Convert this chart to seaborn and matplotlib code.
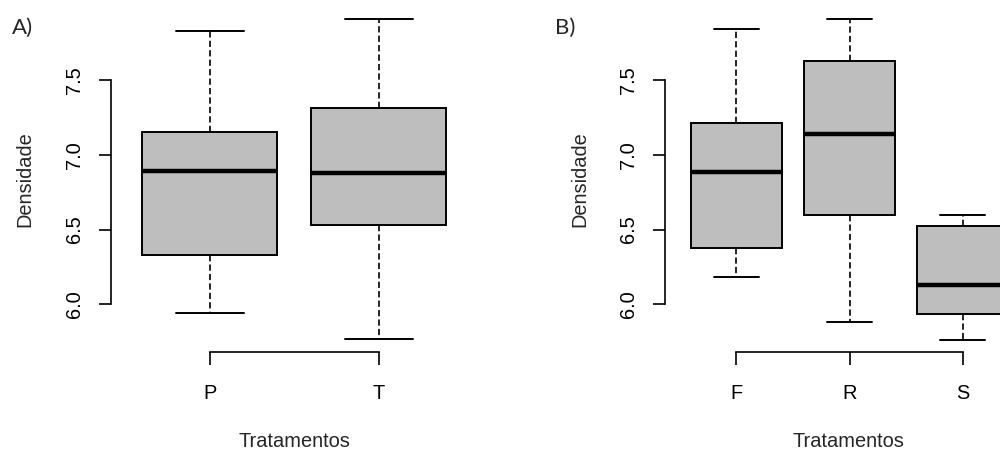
import numpy as np
import pandas as pd
import matplotlib
matplotlib.use("Agg")
import matplotlib.pyplot as plt
import seaborn as sns

# ---- data (five-number summaries) ----
grupos_a = ["P", "T"]
p_vals = [5.940, 6.328, 6.891, 7.154, 7.830]
t_vals = [5.768, 6.527, 6.875, 7.310, 7.906]

grupos_b = ["F", "R", "S"]
f_vals = [6.183, 6.373, 6.886, 7.213, 7.842]
r_vals = [5.884, 6.600, 7.142, 7.630, 7.909]
s_vals = [5.764, 5.938, 6.129, 6.526, 6.600]

y_ticks = [6.0, 6.5, 7.0, 7.5]
y_tick_labels = ["6.0", "6.5", "7.0", "7.5"]
painel_rotulos = ["A)", "B)"]
x_titulo = "Tratamentos"
y_titulo = "Densidade"

df_a = pd.DataFrame({"Tratamentos": np.repeat(grupos_a, 5),
                     "Densidade": p_vals + t_vals})
df_b = pd.DataFrame({"Tratamentos": np.repeat(grupos_b, 5),
                     "Densidade": f_vals + r_vals + s_vals})

sns.set_theme(style="white")
plt.rcParams["font.family"] = ["Liberation Sans", "DejaVu Sans"]
plt.rcParams["lines.scale_dashes"] = False

W, H = 1000, 451
fig = plt.figure(figsize=(W / 100, H / 100), dpi=100)

bottom = 1 - 351.7 / H
height = (351.7 - 6.6) / H
ax_a = fig.add_axes([110.7 / W, bottom, 367.3 / W, height])
ax_b = fig.add_axes([665 / W, bottom, 367.0 / W, height])

box_kw = dict(color="#BEBEBE", saturation=1, width=0.8, linecolor="black",
              linewidth=1.4, showfliers=False,
              whiskerprops=dict(linestyle=(0, (4.5, 2.3)), linewidth=1.2),
              capprops=dict(linewidth=1.4),
              medianprops=dict(linewidth=3.2, color="black"))

FS = 14.4
for ax, df, grupos, xlim in [
    (ax_a, df_a, grupos_a, (-0.588, 1.588)),
    (ax_b, df_b, grupos_b, (-0.630, 2.612)),
]:
    sns.boxplot(data=df, x="Tratamentos", y="Densidade", order=grupos,
                ax=ax, **box_kw)
    ax.set_xlim(*xlim)
    ax.set_ylim(5.6825, 7.9915)
    ax.set_yticks(y_ticks)
    ax.set_yticklabels(y_tick_labels, rotation=90, va="center")
    ax.set_xticks(range(len(grupos)))
    ax.set_xticklabels(grupos)
    for s in ["top", "right"]:
        ax.spines[s].set_visible(False)
    for s in ["left", "bottom"]:
        ax.spines[s].set_color("black")
        ax.spines[s].set_linewidth(1.2)
    ax.spines["left"].set_bounds(6.0, 7.5)
    ax.spines["bottom"].set_bounds(0, len(grupos) - 1)
    ax.tick_params(axis="both", direction="out", length=9, width=1.2,
                   color="black", labelsize=FS, labelcolor="black",
                   left=True, bottom=True)
    ax.tick_params(axis="y", pad=10.5)
    ax.tick_params(axis="x", pad=14)
    ax.set_xlabel(x_titulo, fontsize=FS, labelpad=21)
    ax.set_ylabel(y_titulo, fontsize=FS, labelpad=21.5)
    ax.patch.set_alpha(0)
    ax.grid(False)

fig.text(12 / W, 1 - 34 / H, painel_rotulos[0], fontsize=16,
         family=["Lato", "DejaVu Sans"], ha="left", va="baseline")
fig.text(555 / W, 1 - 34 / H, painel_rotulos[1], fontsize=16,
         family=["Lato", "DejaVu Sans"], ha="left", va="baseline")

fig.savefig("out.png", dpi=100)
